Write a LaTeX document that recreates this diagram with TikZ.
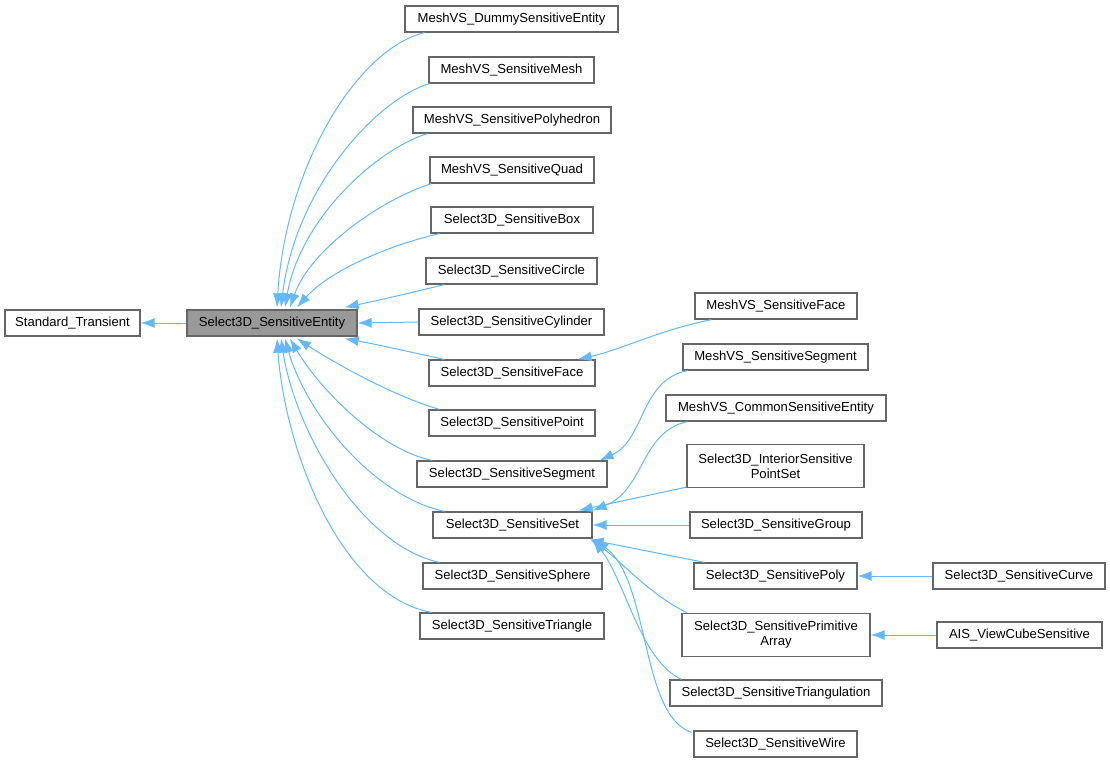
\documentclass[tikz,border=0pt]{standalone}
\usepackage{fontspec}
\setmainfont{Liberation Sans}
\usetikzlibrary{arrows.meta,calc}
\definecolor{edgeblue}{HTML}{63B8FF}
\definecolor{boxgray}{HTML}{666666}
\definecolor{entfill}{HTML}{999999}
\begin{document}
\begin{tikzpicture}[x=1pt,y=-1pt,
  cls/.style={draw=boxgray,line width=1.2pt,fill=white,inner sep=0pt,align=center,
    font=\fontsize{13.1}{15}\selectfont,minimum height=26pt},
  edge/.style={draw=edgeblue,line width=1pt,-{Latex[length=14pt,width=10pt]}}]
\useasboundingbox (0,0) rectangle (1110,763);
% nodes
\node[cls,minimum width=135pt] (st) at (72.5,323) {Standard\_Transient};
\node[cls,minimum width=170pt,fill=entfill] (ent) at (272,323) {Select3D\_SensitiveEntity};
\node[cls,minimum width=213pt] (dummy) at (511.5,19) {MeshVS\_DummySensitiveEntity};
\node[cls,minimum width=165pt] (mesh) at (511.5,70) {MeshVS\_SensitiveMesh};
\node[cls,minimum width=198pt] (polyh) at (512,120) {MeshVS\_SensitivePolyhedron};
\node[cls,minimum width=164pt] (quad) at (512,170) {MeshVS\_SensitiveQuad};
\node[cls,minimum width=162pt] (box) at (512,220) {Select3D\_SensitiveBox};
\node[cls,minimum width=171pt] (circle) at (511.5,271) {Select3D\_SensitiveCircle};
\node[cls,minimum width=185pt] (cyl) at (511.5,322) {Select3D\_SensitiveCylinder};
\node[cls,minimum width=166pt] (face) at (512,373) {Select3D\_SensitiveFace};
\node[cls,minimum width=166pt] (point) at (512,423) {Select3D\_SensitivePoint};
\node[cls,minimum width=190pt] (segment) at (512,474) {Select3D\_SensitiveSegment};
\node[cls,minimum width=159pt] (set) at (512.5,525) {Select3D\_SensitiveSet};
\node[cls,minimum width=179pt] (sphere) at (512.5,576) {Select3D\_SensitiveSphere};
\node[cls,minimum width=184pt] (triangle) at (512,626) {Select3D\_SensitiveTriangle};
\node[cls,minimum width=162pt] (mface) at (776,306) {MeshVS\_SensitiveFace};
\node[cls,minimum width=185pt] (msegment) at (775.5,357) {MeshVS\_SensitiveSegment};
\node[cls,minimum width=220pt] (mcommon) at (776,408) {MeshVS\_CommonSensitiveEntity};
\node[cls,minimum width=177pt,minimum height=43pt] (pointset) at (775.5,466) {Select3D\_InteriorSensitive\\PointSet};
\node[cls,minimum width=172pt] (group) at (776,525) {Select3D\_SensitiveGroup};
\node[cls,minimum width=163pt] (spoly) at (775.5,576) {Select3D\_SensitivePoly};
\node[cls,minimum width=188pt,minimum height=43pt] (parray) at (776,635) {Select3D\_SensitivePrimitive\\Array};
\node[cls,minimum width=212pt] (triang) at (776,693) {Select3D\_SensitiveTriangulation};
\node[cls,minimum width=163pt] (wire) at (775.5,744) {Select3D\_SensitiveWire};
\node[cls,minimum width=172pt] (curve) at (1019,576) {Select3D\_SensitiveCurve};
\node[cls,minimum width=165pt] (ais) at (1019.5,635) {AIS\_ViewCubeSensitive};
% edges
\draw[edge] (ent.west) -- (st.east);
\draw[edge] ($(dummy.south west)+(20,0)$) .. controls (355,50) and (285,170) .. ($(ent.north)+(5,-2)$);
\draw[edge] ($(mesh.south west)+(1,0)$) .. controls (375,100) and (295,190) .. ($(ent.north)+(9,-2)$);
\draw[edge] ($(polyh.south west)+(15,0)$) .. controls (375,150) and (300,220) .. ($(ent.north)+(13,-2)$);
\draw[edge] ($(quad.south west)+(2,0)$) .. controls (380,200) and (310,250) .. ($(ent.north)+(18,-2)$);
\draw[edge] ($(box.south west)+(9,0)$) .. controls (390,245) and (330,270) .. ($(ent.north)+(25,-2)$);
\draw[edge] ($(circle.south west)+(19,0)$) .. controls (410,293) and (380,300) .. ($(ent.north east)+(-13,-2)$);
\draw[edge] (cyl.west) -- (ent.east);
\draw[edge] ($(face.north west)+(16,0)$) .. controls (410,352) and (380,345) .. ($(ent.south east)+(-13,2)$);
\draw[edge] ($(point.north west)+(11,0)$) .. controls (390,395) and (330,360) .. ($(ent.south)+(25,2)$);
\draw[edge] ($(segment.north west)+(16,0)$) .. controls (380,450) and (320,390) .. ($(ent.south)+(18,2)$);
\draw[edge] ($(set.north west)+(12,0)$) .. controls (370,495) and (305,410) .. ($(ent.south)+(13,2)$);
\draw[edge] ($(sphere.north west)+(17,0)$) .. controls (360,545) and (295,430) .. ($(ent.south)+(9,2)$);
\draw[edge] ($(triangle.north west)+(12,0)$) .. controls (340,595) and (285,450) .. ($(ent.south)+(5,2)$);
\draw[edge] ($(mface.south west)+(17,0)$) .. controls (660,330) and (620,350) .. ($(face.north east)+(-18,0)$);
\draw[edge] ($(msegment.south west)+(5,0)$) .. controls (640,380) and (645,440) .. ($(segment.north east)+(-8,0)$);
\draw[edge] ($(mcommon.south west)+(22,0)$) .. controls (640,432) and (645,490) .. ($(set.north east)+(0,-1)$);
\draw[edge] ($(pointset.south west)+(0,-1)$) -- ($(set.north east)+(-14,-1)$);
\draw[edge] (group.west) -- (set.east);
\draw[edge] ($(spoly.north west)+(11,0)$) -- ($(set.south east)+(-3,1)$);
\draw[edge] ($(parray.north west)+(6,0)$) .. controls (650,595) and (620,560) .. ($(set.south east)+(-2,1)$);
\draw[edge] ($(triang.north west)+(12,0)$) .. controls (640,660) and (625,580) .. ($(set.south east)+(0,1)$);
\draw[edge] ($(wire.north west)+(-2,2)$) .. controls (640,715) and (650,580) .. ($(set.south east)+(2,1)$);
\draw[edge] (curve.west) -- (spoly.east);
\draw[edge] (ais.west) -- (parray.east);
\end{tikzpicture}
\end{document}
